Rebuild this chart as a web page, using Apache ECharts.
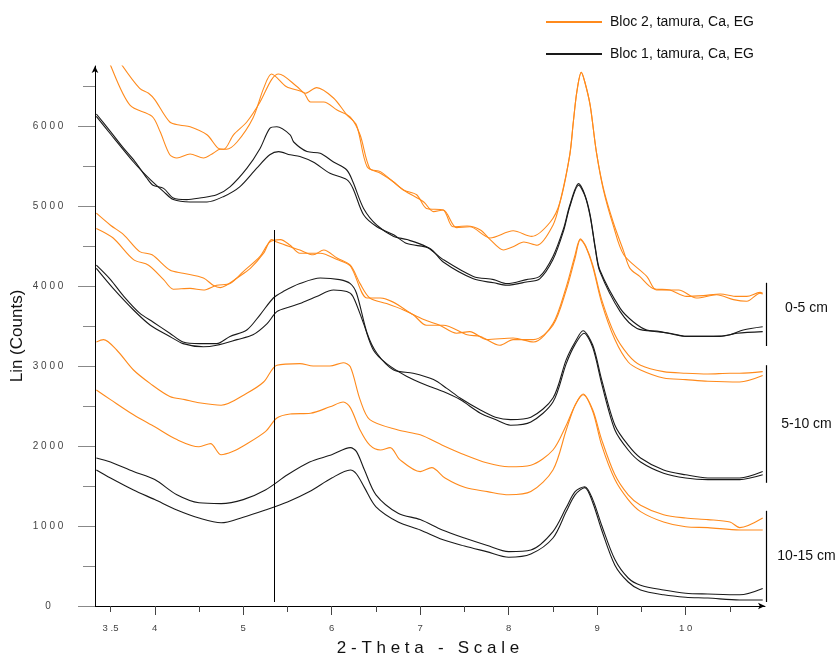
<!DOCTYPE html>
<html><head><meta charset="utf-8">
<script src="https://cdn.jsdelivr.net/npm/echarts@6/dist/echarts.min.js"></script>
<style>html,body{margin:0;padding:0;background:#fff}#c{width:838px;height:659px}</style>
</head><body><div id="c"></div>
<script>
// ---- axis ticks / labels ----
const xMajorTicks = [4, 5, 6, 7, 8, 9, 10];
const xMinorTicks = [3.5, 4.5, 5.5, 6.5, 7.5, 8.5, 9.5, 10.5];
const xLabelValues = [3.5, 4, 5, 6, 7, 8, 9, 10];
const yMajorTicks = [0, 1000, 2000, 3000, 4000, 5000, 6000];
const yMinorTicks = [500, 1500, 2500, 3500, 4500, 5500, 6500];
const xRange = [3.144, 10.896];
const yRange = [0, 6750];

// ---- annotations ----
const depthLabels = ['0-5 cm', '5-10 cm', '10-15 cm'];
const depthTop = [4040, 3010, 1190];
const depthBottom = [3250, 1540, 50];
const refLine = [[5.35, 4700], [5.35, 50]];

const seriesNames = ['Bloc 2, tamura, Ca, EG', 'Bloc 1, tamura, Ca, EG'];

// ---- series values [2-theta, counts] ----
const bloc2_0_5_a = [[3.34,7400],[3.50,7000],[3.63,6760],[3.83,6470],[3.93,6410],[4.00,6330],[4.17,6050],[4.29,6010],[4.40,5990],[4.59,5890],[4.72,5720],[4.78,5710],[4.89,5890],[5.04,6050],[5.19,6300],[5.32,6580],[5.40,6650],[5.61,6490],[5.70,6410],[5.83,6480],[6.02,6350],[6.17,6140],[6.28,6010],[6.40,5490],[6.55,5410],[6.70,5300],[6.81,5200],[6.96,5140],[7.07,4970],[7.26,4950],[7.37,4740],[7.53,4750],[7.68,4700],[7.79,4580],[7.94,4450],[8.05,4490],[8.17,4550],[8.32,4510],[8.50,4760],[8.58,5050],[8.69,5640],[8.73,6050],[8.77,6430],[8.82,6670],[8.86,6550],[8.92,6260],[8.99,5680],[9.07,5220],[9.18,4800],[9.30,4430],[9.37,4220],[9.48,4120],[9.63,3970],[9.82,3950],[10.01,3870],[10.20,3880],[10.39,3900],[10.58,3870],[10.69,3870],[10.84,3920],[10.87,3910]];
const bloc2_0_5_b = [[3.34,7250],[3.50,6760],[3.72,6260],[3.97,6120],[4.06,5930],[4.17,5640],[4.25,5600],[4.40,5650],[4.55,5600],[4.66,5660],[4.74,5710],[4.81,5710],[4.93,5800],[5.11,6100],[5.23,6470],[5.32,6650],[5.49,6490],[5.68,6420],[5.76,6300],[5.91,6300],[6.06,6200],[6.21,6110],[6.32,5890],[6.43,5470],[6.55,5430],[6.81,5200],[7.04,5050],[7.15,4930],[7.26,4950],[7.41,4730],[7.56,4740],[7.79,4600],[8.05,4690],[8.26,4620],[8.47,4800],[8.58,5050],[8.69,5640],[8.73,6050],[8.77,6430],[8.82,6670],[8.86,6550],[8.92,6260],[8.99,5680],[9.07,5200],[9.18,4760],[9.30,4390],[9.56,4120],[9.67,3950],[9.92,3950],[10.12,3850],[10.35,3890],[10.54,3830],[10.69,3810],[10.84,3910],[10.87,3900]];
const bloc1_0_5_a = [[3.34,6150],[3.50,5930],[3.65,5720],[3.76,5580],[3.91,5350],[3.98,5260],[4.10,5220],[4.21,5100],[4.36,5080],[4.51,5100],[4.70,5140],[4.85,5240],[5.04,5470],[5.19,5720],[5.30,5970],[5.38,5990],[5.53,5890],[5.57,5800],[5.72,5680],[5.87,5660],[6.02,5550],[6.17,5450],[6.24,5300],[6.36,4970],[6.51,4760],[6.70,4620],[6.85,4580],[7.07,4490],[7.26,4330],[7.60,4120],[7.83,4080],[7.98,4030],[8.20,4080],[8.35,4120],[8.50,4370],[8.62,4720],[8.69,5010],[8.79,5280],[8.86,5140],[8.92,4890],[8.98,4470],[9.03,4200],[9.26,3720],[9.41,3550],[9.56,3450],[9.82,3410],[10.01,3370],[10.31,3370],[10.50,3390],[10.65,3450],[10.87,3490]];
const bloc1_0_5_b = [[3.34,6120],[3.50,5900],[3.76,5550],[3.95,5330],[4.10,5180],[4.21,5080],[4.40,5050],[4.59,5050],[4.78,5120],[4.96,5240],[5.15,5470],[5.30,5640],[5.40,5680],[5.53,5640],[5.64,5620],[5.79,5550],[5.98,5410],[6.17,5330],[6.24,5220],[6.36,4890],[6.51,4740],[6.70,4640],[6.85,4530],[7.11,4470],[7.26,4300],[7.60,4090],[7.83,4040],[7.98,4010],[8.20,4050],[8.35,4090],[8.50,4330],[8.62,4690],[8.69,4990],[8.79,5260],[8.86,5130],[8.92,4870],[8.98,4450],[9.03,4180],[9.26,3680],[9.45,3470],[9.71,3430],[10.01,3370],[10.39,3370],[10.58,3410],[10.87,3430]];
const bloc2_5_10_a = [[3.34,4910],[3.50,4760],[3.65,4640],[3.83,4430],[3.97,4390],[4.17,4200],[4.32,4160],[4.55,4100],[4.66,4010],[4.74,3980],[4.81,4010],[4.93,4100],[5.08,4220],[5.23,4410],[5.32,4580],[5.38,4550],[5.53,4490],[5.64,4450],[5.79,4390],[5.91,4450],[6.06,4350],[6.21,4260],[6.32,4030],[6.43,3850],[6.62,3780],[6.81,3700],[7.04,3580],[7.22,3510],[7.41,3410],[7.56,3430],[7.75,3330],[8.05,3350],[8.28,3300],[8.50,3530],[8.65,3990],[8.75,4390],[8.81,4590],[8.87,4500],[8.95,4260],[9.05,3830],[9.20,3390],[9.35,3140],[9.49,3010],[9.75,2930],[10.00,2910],[10.25,2900],[10.50,2910],[10.61,2910],[10.87,2930]];
const bloc2_5_10_b = [[3.34,4720],[3.53,4600],[3.76,4330],[3.93,4260],[4.10,4080],[4.21,3960],[4.40,3970],[4.55,3950],[4.70,4010],[4.85,4030],[5.00,4180],[5.19,4370],[5.30,4550],[5.42,4580],[5.53,4510],[5.64,4410],[5.87,4410],[6.06,4330],[6.21,4250],[6.40,3850],[6.55,3850],[6.92,3640],[7.07,3510],[7.26,3510],[7.53,3390],[7.68,3370],[7.90,3260],[8.05,3330],[8.28,3330],[8.50,3510],[8.65,3950],[8.75,4350],[8.81,4580],[8.87,4490],[8.95,4240],[9.05,3790],[9.20,3330],[9.35,3050],[9.49,2950],[9.75,2850],[10.00,2830],[10.25,2810],[10.61,2800],[10.87,2880]];
const bloc1_5_10_a = [[3.34,4260],[3.50,4080],[3.65,3870],[3.83,3660],[3.98,3550],[4.17,3410],[4.32,3300],[4.51,3280],[4.70,3280],[4.85,3370],[5.04,3450],[5.19,3640],[5.34,3850],[5.45,3930],[5.64,4030],[5.87,4100],[6.09,4080],[6.21,4030],[6.28,3910],[6.40,3410],[6.51,3160],[6.70,2950],[6.92,2910],[7.15,2830],[7.30,2720],[7.45,2600],[7.68,2450],[7.85,2360],[8.02,2330],[8.25,2360],[8.50,2600],[8.65,3080],[8.75,3300],[8.84,3440],[8.95,3260],[9.05,2830],[9.20,2260],[9.35,2010],[9.49,1850],[9.75,1700],[10.00,1640],[10.25,1600],[10.61,1600],[10.87,1680]];
const bloc1_5_10_b = [[3.34,4220],[3.53,3970],[3.76,3700],[3.95,3510],[4.17,3370],[4.32,3280],[4.55,3240],[4.70,3260],[4.93,3330],[5.11,3390],[5.27,3530],[5.38,3680],[5.53,3740],[5.64,3780],[5.83,3870],[6.02,3950],[6.17,3930],[6.24,3870],[6.36,3530],[6.47,3200],[6.62,3030],[6.85,2870],[7.07,2760],[7.26,2680],[7.45,2580],[7.68,2410],[7.85,2330],[8.02,2260],[8.25,2300],[8.50,2550],[8.65,3030],[8.75,3270],[8.85,3410],[8.95,3230],[9.05,2780],[9.20,2200],[9.35,1950],[9.49,1800],[9.75,1660],[10.00,1600],[10.25,1580],[10.61,1580],[10.87,1640]];
const bloc2_10_15_a = [[3.34,3300],[3.42,3330],[3.57,3200],[3.76,2950],[3.95,2780],[4.17,2620],[4.34,2580],[4.50,2540],[4.75,2510],[5.04,2660],[5.23,2800],[5.38,3010],[5.64,3030],[5.79,3000],[5.98,3000],[6.13,3040],[6.21,2990],[6.32,2580],[6.43,2330],[6.75,2200],[7.00,2140],[7.25,2010],[7.50,1890],[7.75,1790],[8.00,1740],[8.25,1760],[8.50,1950],[8.65,2260],[8.75,2510],[8.84,2650],[8.95,2450],[9.05,2080],[9.20,1640],[9.35,1390],[9.49,1260],[9.75,1140],[10.00,1100],[10.25,1080],[10.50,1050],[10.61,980],[10.87,1100]];
const bloc2_10_15_b = [[3.34,2700],[3.50,2580],[3.76,2390],[4.00,2240],[4.25,2080],[4.50,1990],[4.63,2030],[4.75,1890],[4.88,1930],[5.00,2000],[5.25,2180],[5.38,2350],[5.53,2400],[5.76,2410],[5.98,2490],[6.13,2550],[6.21,2480],[6.32,2200],[6.43,2010],[6.55,1950],[6.66,1980],[6.77,1830],[7.00,1680],[7.13,1730],[7.28,1600],[7.51,1480],[7.76,1430],[8.00,1390],[8.25,1430],[8.50,1700],[8.65,2200],[8.75,2510],[8.84,2640],[8.95,2430],[9.05,2010],[9.20,1580],[9.35,1330],[9.49,1180],[9.75,1050],[10.00,990],[10.25,980],[10.61,950],[10.87,950]];
const bloc1_10_15_a = [[3.34,1850],[3.50,1800],[3.76,1680],[4.00,1580],[4.25,1390],[4.50,1290],[4.75,1280],[5.00,1330],[5.25,1450],[5.50,1640],[5.75,1800],[6.00,1890],[6.21,1980],[6.28,1930],[6.37,1700],[6.50,1390],[6.75,1160],[7.00,1080],[7.25,950],[7.50,850],[7.75,760],[8.00,680],[8.25,700],[8.50,930],[8.65,1230],[8.75,1430],[8.86,1490],[8.95,1330],[9.05,1010],[9.20,580],[9.35,350],[9.49,260],[9.75,200],[10.00,160],[10.25,150],[10.61,140],[10.87,220]];
const bloc1_10_15_b = [[3.34,1700],[3.50,1600],[3.76,1450],[4.00,1330],[4.25,1200],[4.50,1100],[4.75,1040],[5.00,1110],[5.25,1200],[5.50,1300],[5.75,1430],[6.00,1600],[6.21,1700],[6.28,1650],[6.37,1480],[6.50,1240],[6.75,1050],[7.00,950],[7.25,830],[7.50,750],[7.75,680],[8.00,610],[8.25,650],[8.50,850],[8.65,1180],[8.75,1390],[8.86,1480],[8.95,1290],[9.05,950],[9.20,510],[9.35,300],[9.49,200],[9.75,140],[10.00,110],[10.25,100],[10.61,75],[10.87,75]];

const ORANGE = '#FF8A1C';
const BLACK = '#1a1a1a';
const FONT = '"Liberation Sans", Arial, sans-serif';

function spaced(v) {
  return String(v).split('').join(' ').replace(' . ', ' .');
}
function mkLine(name, data, color, extra) {
  return Object.assign({
    type: 'line', name: name, data: data, xAxisIndex: 0, yAxisIndex: 0,
    symbol: 'none', showSymbol: false, smooth: 0.3, clip: true, silent: true,
    lineStyle: { color: color, width: 1.1 }, itemStyle: { color: color }
  }, extra || {});
}

const chart = echarts.init(document.getElementById('c'), null, { renderer: 'canvas' });
const option = {
  animation: false,
  backgroundColor: '#ffffff',
  textStyle: { fontFamily: FONT },
  grid: { left: 79, right: 73, top: 66, bottom: 53, outerBoundsMode: 'none', containLabel: false },
  legend: {
    orient: 'vertical', left: 541, top: 10, itemWidth: 56, itemHeight: 2, itemGap: 18,
    data: [{ name: seriesNames[0], icon: 'rect' }, { name: seriesNames[1], icon: 'rect' }],
    textStyle: { fontSize: 14, color: '#111', fontFamily: FONT, padding: [0, 0, 0, 3] },
    selectedMode: false
  },
  xAxis: [{
    type: 'value', min: xRange[0], max: xRange[1], position: 'bottom',
    name: '2 - T h e t a   -   S c a l e', nameLocation: 'middle', nameGap: 34, nameMoveOverlap: false,
    nameTextStyle: { fontSize: 17, color: '#111', fontFamily: FONT, padding: [0, 0, 0, 12] },
    axisLine: { show: true, onZero: false, symbol: ['none', 'arrow'], symbolSize: [5, 7], lineStyle: { color: '#000', width: 1 } },
    axisTick: { show: true, customValues: xMajorTicks, length: 9, lineStyle: { color: '#444' } },
    axisLabel: { show: true, customValues: xLabelValues, formatter: spaced, margin: 17, fontSize: 9.5, color: '#444', fontFamily: FONT },
    splitLine: { show: false }
  }, {
    type: 'value', min: xRange[0], max: xRange[1], position: 'bottom', gridIndex: 0,
    axisLine: { show: false },
    axisTick: { show: true, customValues: xMinorTicks, length: 6, lineStyle: { color: '#444' } },
    axisLabel: { show: false }, splitLine: { show: false }
  }],
  yAxis: [{
    type: 'value', min: yRange[0], max: yRange[1], position: 'left', offset: -16,
    name: 'Lin (Counts)', nameLocation: 'middle', nameGap: 69, nameRotate: 90, nameMoveOverlap: false,
    nameTextStyle: { fontSize: 17, color: '#111', fontFamily: FONT },
    axisLine: { show: true, onZero: false, symbol: ['none', 'arrow'], symbolSize: [5, 7], lineStyle: { color: '#000', width: 1 } },
    axisTick: { show: true, customValues: yMajorTicks, length: 17, lineStyle: { color: '#888' } },
    axisLabel: { show: true, customValues: yMajorTicks, formatter: spaced, margin: 47, align: 'center', fontSize: 10, color: '#444', fontFamily: FONT },
    splitLine: { show: false }
  }, {
    type: 'value', min: yRange[0], max: yRange[1], position: 'left', offset: -16, gridIndex: 0,
    axisLine: { show: false },
    axisTick: { show: true, customValues: yMinorTicks, length: 12, lineStyle: { color: '#888' } },
    axisLabel: { show: false }, splitLine: { show: false }
  }],
  series: [
    mkLine(seriesNames[0], bloc2_0_5_a, ORANGE),
    mkLine(seriesNames[0], bloc2_0_5_b, ORANGE),
    mkLine(seriesNames[0], bloc2_5_10_a, ORANGE),
    mkLine(seriesNames[0], bloc2_5_10_b, ORANGE),
    mkLine(seriesNames[0], bloc2_10_15_a, ORANGE),
    mkLine(seriesNames[0], bloc2_10_15_b, ORANGE),
    mkLine(seriesNames[1], bloc1_0_5_a, BLACK),
    mkLine(seriesNames[1], bloc1_0_5_b, BLACK),
    mkLine(seriesNames[1], bloc1_5_10_a, BLACK),
    mkLine(seriesNames[1], bloc1_5_10_b, BLACK),
    mkLine(seriesNames[1], bloc1_10_15_a, BLACK),
    mkLine(seriesNames[1], bloc1_10_15_b, BLACK, {
      markLine: {
        silent: true, symbol: ['none', 'none'], label: { show: false },
        lineStyle: { color: '#000', width: 1, type: 'solid' },
        data: [[{ coord: refLine[0] }, { coord: refLine[1] }]]
      }
    })
  ]
};
chart.setOption(option);

// depth brackets on the right, positioned through the chart's own scales
const graphics = [];
depthLabels.forEach(function (lab, i) {
  const pTop = chart.convertToPixel({ xAxisIndex: 0, yAxisIndex: 0 }, [xRange[1], depthTop[i]]);
  const pBot = chart.convertToPixel({ xAxisIndex: 0, yAxisIndex: 0 }, [xRange[1], depthBottom[i]]);
  const x = Math.round(pTop[0]) + 1.5;
  graphics.push({ type: 'line', shape: { x1: x, y1: pTop[1], x2: x, y2: pBot[1] }, style: { stroke: '#000', lineWidth: 1.2 }, silent: true });
  graphics.push({ type: 'text', x: x + 40, y: (pTop[1] + pBot[1]) / 2 - (i === 0 ? 6 : 0), style: { text: lab, fill: '#111', font: '14px ' + FONT, textAlign: 'center', textVerticalAlign: 'middle' }, silent: true });
});
chart.setOption({ graphic: graphics });
</script>
</body></html>
